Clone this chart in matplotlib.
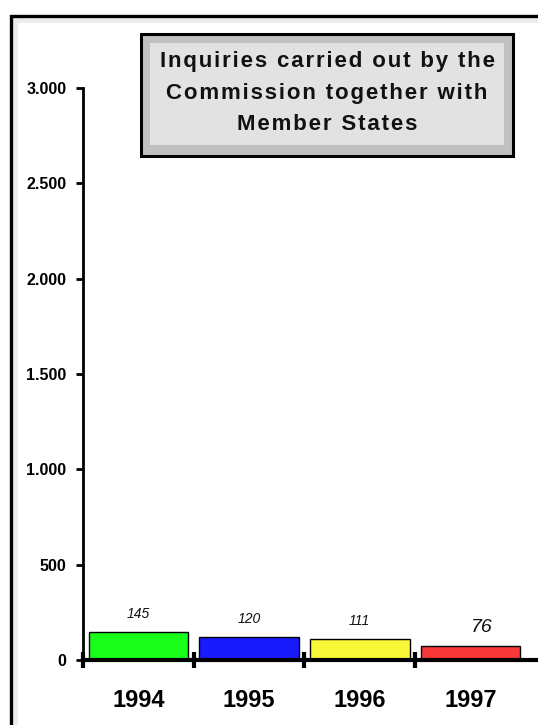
import matplotlib
matplotlib.use('Agg')
import matplotlib.pyplot as plt
from matplotlib.patches import Rectangle
from matplotlib.ticker import FuncFormatter

# data
years = ['1994', '1995', '1996', '1997']
inquiries = [145, 120, 111, 76]
bar_colors = ['#1aff1a', '#1a1aff', '#f8f838', '#f83838']
label_sizes = [10, 10, 10, 14]
y_ticks = [0, 500, 1000, 1500, 2000, 2500, 3000]
title_lines = ['Inquiries carried out by the', 'Commission together with', 'Member States']

W, H = 538, 725
plt.rcParams['font.family'] = ['Liberation Sans', 'DejaVu Sans']


def fx(x):
    return x / W


def fy(y):
    return 1 - y / H


def spaced(s):
    # a bit of letter spacing with hair spaces
    return '\u200a'.join(s)


fig = plt.figure(figsize=(W / 100, H / 100), dpi=100, facecolor='white')

# outer frame (right and bottom edges run off the picture)
fig.patches.append(Rectangle((fx(14.8), fy(760)), fx(600), fy(19.8) - fy(760), transform=fig.transFigure,
                             fill=False, edgecolor='#ececec', lw=3.6, zorder=0))
fig.patches.append(Rectangle((fx(10.6), fy(760)), fx(600), fy(15.6) - fy(760), transform=fig.transFigure,
                             fill=False, edgecolor='black', lw=2.4, zorder=0))

ax = fig.add_axes([fx(83), fy(660), fx(W) - fx(83), fy(88) - fy(660)])
ax.set_facecolor('none')

x = range(len(years))
ax.bar(x, inquiries, width=0.9, color=bar_colors, edgecolor='black', linewidth=1, zorder=2)

for i, v in enumerate(inquiries):
    dx = 8 if i == 3 else 0
    ax.annotate(str(v), (i, v), xytext=(dx, 13), textcoords='offset points', ha='center', va='center',
                fontsize=label_sizes[i], style='italic', color='#111111')

ax.set_xlim(-0.5, 3.61)
ax.set_ylim(0, 3000)

ax.spines['top'].set_visible(False)
ax.spines['right'].set_visible(False)
ax.spines['left'].set_linewidth(2)
ax.spines['bottom'].set_linewidth(3)
ax.spines['bottom'].set_zorder(3)

ax.set_yticks(y_ticks)
ax.yaxis.set_major_formatter(FuncFormatter(lambda v, p: f'{int(v):,}'.replace(',', '.')))
ax.tick_params(axis='y', direction='out', length=5, width=2, pad=7, labelsize=11.5)
for t in ax.get_yticklabels():
    t.set_fontweight('bold')

ax.set_xticks(list(x))
ax.set_xticklabels(years, fontsize=17, fontweight='bold')
ax.tick_params(axis='x', length=0, pad=21)
ax.set_xticks([-0.5, 0.5, 1.5, 2.5], minor=True)
ax.tick_params(axis='x', which='minor', direction='inout', length=12, width=3)

# title box
fig.patches.append(Rectangle((fx(141), fy(156)), fx(513) - fx(141), fy(34) - fy(156), transform=fig.transFigure,
                             facecolor='#c0c0c0', edgecolor='black', lw=2.2, zorder=3))
fig.patches.append(Rectangle((fx(150), fy(145)), fx(504) - fx(150), fy(43) - fy(145), transform=fig.transFigure,
                             facecolor='#e2e2e2', edgecolor='none', zorder=3))
for k, line in enumerate(title_lines):
    fig.text(fx(327), fy(67.5 + 31.5 * k), spaced(line), ha='center', va='baseline',
             fontsize=16, fontweight='bold', color='#111111', zorder=4)

fig.savefig('out.png', dpi=100, facecolor='white')
